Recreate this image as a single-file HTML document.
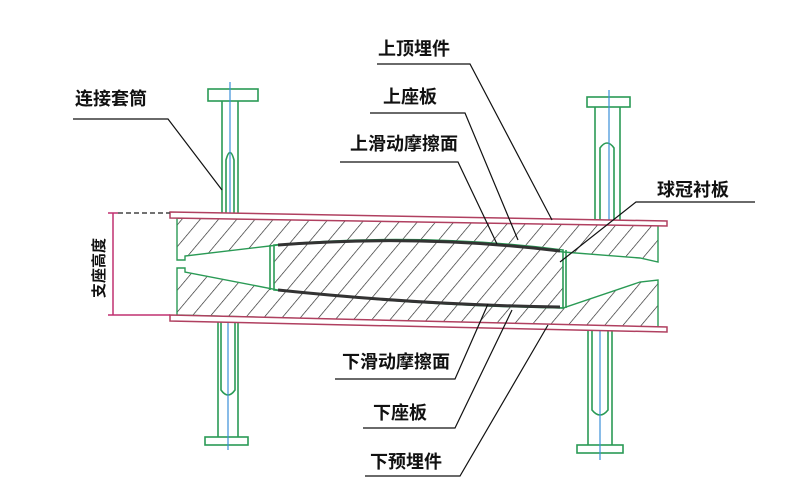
<!DOCTYPE html>
<html><head><meta charset="utf-8"><style>
html,body{margin:0;padding:0;background:#fff;}
svg{display:block}
text{font-family:"Liberation Sans","Noto Sans CJK SC",sans-serif;font-size:18px;fill:#111;font-weight:bold}
</style></head><body>
<svg width="785" height="497" viewBox="0 0 785 497" xmlns="http://www.w3.org/2000/svg">
<defs>
<pattern id="h" patternUnits="userSpaceOnUse" width="14" height="14" patternTransform="rotate(40)">
<line x1="0" y1="0" x2="0" y2="14" stroke="#222" stroke-width="1.3"/>
</pattern>
</defs>
<rect width="785" height="497" fill="#fff"/>
<g stroke="#2a9a55" stroke-width="1.6" fill="none">
<rect x="208" y="89" width="50" height="12"/>
<line x1="222" y1="101" x2="222" y2="215"/><line x1="238" y1="101" x2="238" y2="215"/>
<path d="M226 215 V160 Q230 145 234 160 V215"/>
<rect x="587" y="97" width="43" height="10"/>
<line x1="595" y1="107" x2="595" y2="222"/><line x1="620" y1="107" x2="620" y2="222"/>
<path d="M600 222 V148 Q607 138 614 148 V222"/>
<line x1="218" y1="320" x2="218" y2="437"/><line x1="238" y1="320" x2="238" y2="437"/>
<path d="M221 320 V390 Q228 400 235 390 V320"/>
<rect x="205" y="437" width="43" height="8"/>
<line x1="588" y1="330" x2="588" y2="445"/><line x1="612" y1="330" x2="612" y2="445"/>
<path d="M592 330 V410 Q600 420 608 410 V330"/>
<rect x="577" y="445" width="46" height="8"/>
</g>
<g stroke="#3b8fd8" stroke-width="1.2">
<line x1="230" y1="82" x2="230" y2="215"/><line x1="609" y1="90" x2="609" y2="222"/>
<line x1="228" y1="320" x2="228" y2="450"/><line x1="600" y1="330" x2="600" y2="460"/>
</g>
<path d="M177 218 L658 225 L658 262 L640 258 L563 252 L520 246 Q420 236 278 245 L185 256 L185 260 L177 260 Z" fill="url(#h)" stroke="#2a9a55" stroke-width="1.4"/>
<path d="M177 268 L185 268 L185 272 L278 290 Q420 306 563 308 L640 282 L658 280 L658 328 L177 315 Z" fill="url(#h)" stroke="#2a9a55" stroke-width="1.4"/>
<path d="M274 245 Q420 232 563 250 L563 308 Q420 304 274 290 Z" fill="url(#h)" stroke="#2a9a55" stroke-width="1.6"/>
<path d="M278 245 Q420 234 560 251" fill="none" stroke="#333" stroke-width="3"/>
<path d="M278 290 Q420 305 560 307" fill="none" stroke="#333" stroke-width="3"/>
<line x1="270" y1="245" x2="270" y2="290" stroke="#2a9a55" stroke-width="1.6"/>
<line x1="566" y1="250" x2="566" y2="308" stroke="#2a9a55" stroke-width="1.6"/>
<path d="M170 212 L667 221 L667 226 L170 218 Z" fill="#fff" stroke="#b04060" stroke-width="1.5"/>
<path d="M170 315 L667 327 L667 332 L170 321 Z" fill="#fff" stroke="#b04060" stroke-width="1.5"/>
<g stroke="#c03070" stroke-width="1.5">
<line x1="113" y1="213" x2="113" y2="315"/>
<line x1="108" y1="213" x2="118" y2="213"/><line x1="108" y1="315" x2="170" y2="315"/>
<line x1="118" y1="213" x2="170" y2="213" stroke="#444" stroke-dasharray="5,3"/>
</g>
<text transform="translate(104,298) rotate(-90)" style="font-size:15px">支座高度</text>
<g stroke="#111" stroke-width="1.2" fill="none">
<polyline points="73,119 168,119 222,190"/>
<polyline points="377,64 470,64 552,220"/>
<polyline points="370,113 465,113 518,240"/>
<polyline points="340,162 458,162 497,244"/>
<polyline points="755,202 636,202 560,262"/>
<polyline points="335,379 455,379 488,304"/>
<polyline points="363,428 455,428 512,310"/>
<polyline points="365,476 460,476 548,325"/>
</g>
<text x="75" y="105">连接套筒</text>
<text x="378" y="55">上顶埋件</text>
<text x="383" y="103">上座板</text>
<text x="350" y="150">上滑动摩擦面</text>
<text x="657" y="196">球冠衬板</text>
<text x="342" y="368">下滑动摩擦面</text>
<text x="373" y="419">下座板</text>
<text x="370" y="468">下预埋件</text>
</svg>
</body></html>
